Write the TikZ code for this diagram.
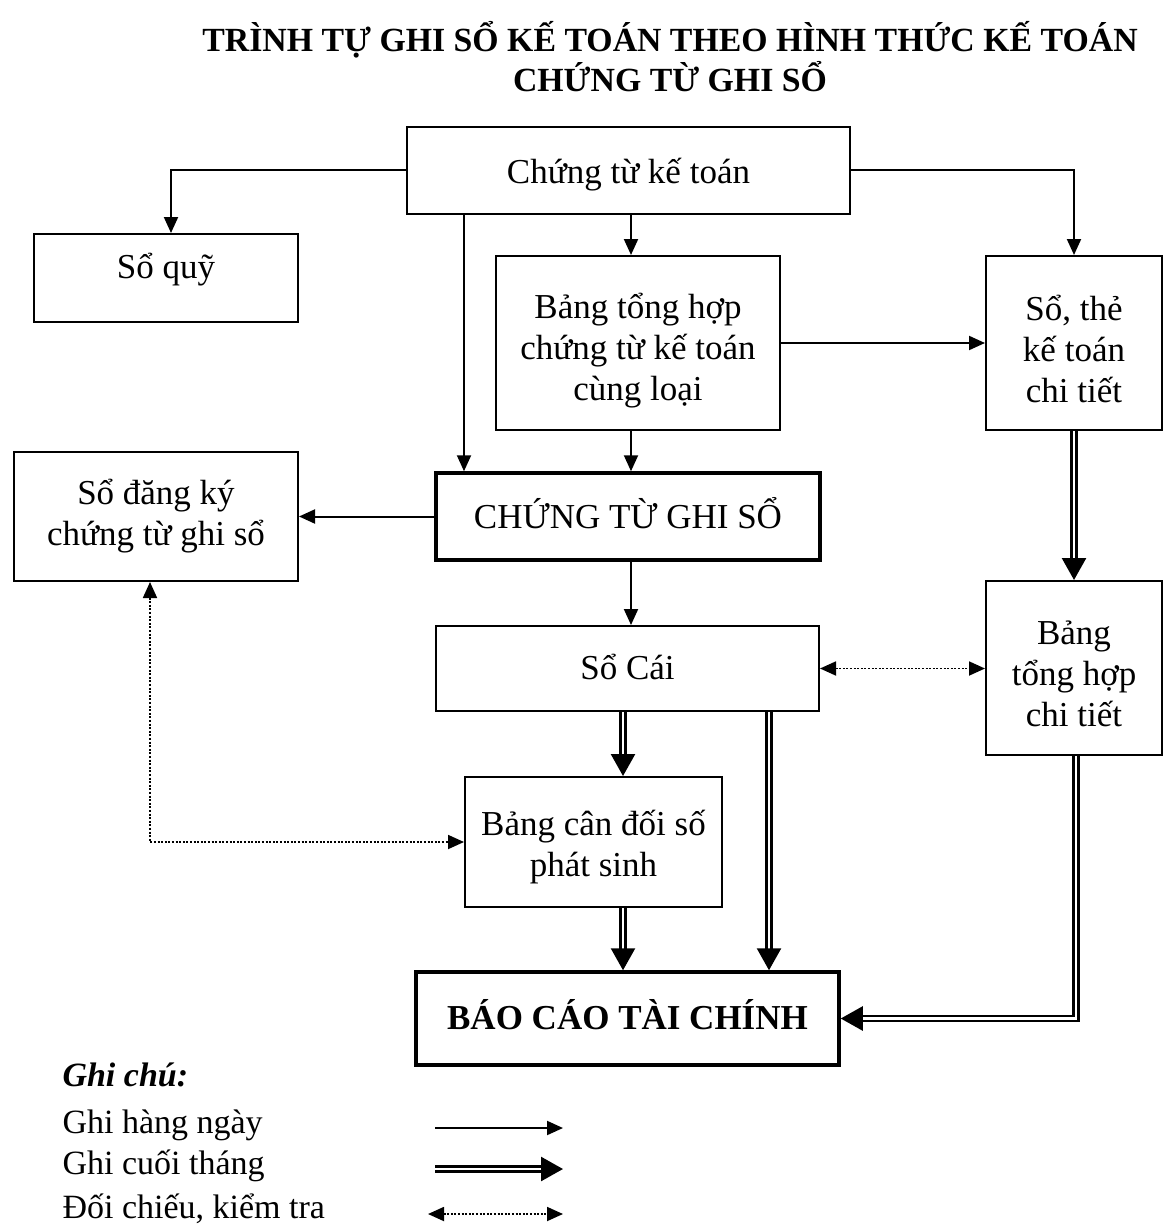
\documentclass[tikz,border=0pt]{standalone}
\usepackage{fontspec}
\setmainfont{Liberation Serif}
\usetikzlibrary{arrows.meta}
\begin{document}
\begin{tikzpicture}[x=1pt,y=-1pt,
  txt/.style={font=\fontsize{35}{41}\selectfont,align=center,inner sep=0pt},
  box/.style={draw,line width=2pt,inner sep=0pt},
  heavybox/.style={box,line width=3.5pt},
  daily/.style={line width=2pt,-{Triangle[length=16pt,width=14pt]}},
  monthly/.style={double,line width=2.5pt,double distance=2.5pt,-{Triangle[length=22pt,width=24pt]}},
  check/.style={line width=1.8pt,dash pattern=on 2pt off 1.6pt,{Triangle[length=16pt,width=14pt]}-{Triangle[length=16pt,width=14pt]}},
  legend/.style={anchor=base west,font=\fontsize{34}{40}\selectfont},
]
\useasboundingbox (0,0) rectangle (1163,1225);

% title
\node[font=\fontsize{33.8}{37}\bfseries] (title1) at (670,40) {TRÌNH TỰ GHI SỔ KẾ TOÁN THEO HÌNH THỨC KẾ TOÁN};
\node[font=\fontsize{33.8}{37}\bfseries] (title2) at (670,77) {CHỨNG TỪ GHI SỔ};

% boxes
\node[box,minimum width=443pt,minimum height=87pt] (ctkt) at (628.5,170.5) {};
\node[box,minimum width=264pt,minimum height=88pt] (soquy) at (166,278) {};
\node[box,minimum width=284pt,minimum height=174pt] (bth) at (638,343) {};
\node[box,minimum width=176pt,minimum height=174pt] (sothe) at (1074,343) {};
\node[box,minimum width=284pt,minimum height=129pt] (sdk) at (156,516.5) {};
\node[heavybox,minimum width=384pt,minimum height=87pt] (ctgs) at (628,516.5) {};
\node[box,minimum width=383pt,minimum height=85pt] (socai) at (627.5,668.5) {};
\node[box,minimum width=176pt,minimum height=174pt] (bthct) at (1074,668) {};
\node[box,minimum width=257pt,minimum height=130pt] (bcd) at (593.5,842) {};
\node[heavybox,minimum width=423pt,minimum height=93pt] (bctc) at (627.5,1018.5) {};

% box texts
\node[txt] (ctkt-t) at ([yshift=-4pt]ctkt.center) {Chứng từ kế toán};
\node[txt] (soquy-t) at ([yshift=8pt]soquy.center) {Sổ quỹ};
\node[txt] (bth-t) at ([yshift=-8pt]bth.center) {Bảng tổng hợp\\chứng từ kế toán\\cùng loại};
\node[txt] (sothe-t) at ([yshift=-6pt]sothe.center) {Sổ, thẻ\\kế toán\\chi tiết};
\node[txt] (sdk-t) at (sdk.center) {Sổ đăng ký\\chứng từ ghi sổ};
\node[txt] (ctgs-t) at ([yshift=3pt]ctgs.center) {CHỨNG TỪ GHI SỔ};
\node[txt] (socai-t) at ([yshift=2pt]socai.center) {Sổ Cái};
\node[txt] (bthct-t) at ([yshift=-6pt]bthct.center) {Bảng\\tổng hợp\\chi tiết};
\node[txt] (bcd-t) at ([yshift=-5pt]bcd.center) {Bảng cân đối số\\phát sinh};
\node[txt,font=\fontsize{35}{41}\bfseries] (bctc-t) at ([yshift=4pt]bctc.center) {BÁO CÁO TÀI CHÍNH};

% connector columns
\coordinate (c150) at (150,0);
\coordinate (c171) at (171,0);
\coordinate (c464) at (464,0);
\coordinate (c623) at (623,0);
\coordinate (c631) at (631,0);
\coordinate (c769) at (769,0);
\coordinate (c1076) at (1076,0);

% daily entries
\draw[daily] (ctkt.west) -| (c171 |- soquy.north);
\draw[daily] (ctkt.east) -| (sothe.north);
\draw[daily] (c464 |- ctkt.south) -- (c464 |- ctgs.north);
\draw[daily] (c631 |- ctkt.south) -- (c631 |- bth.north);
\draw[daily] (bth.east) -- (sothe.west |- bth.east);
\draw[daily] (c631 |- bth.south) -- (c631 |- ctgs.north);
\draw[daily] (ctgs.west) -- (sdk.east |- ctgs.west);
\draw[daily] (c631 |- ctgs.south) -- (c631 |- socai.north);

% month-end entries
\draw[monthly] (sothe.south) -- (bthct.north);
\draw[monthly] (c623 |- socai.south) -- (c623 |- bcd.north);
\draw[monthly] (c769 |- socai.south) -- (c769 |- bctc.north);
\draw[monthly] (c623 |- bcd.south) -- (c623 |- bctc.north);
\draw[monthly] (c1076 |- bthct.south) |- (bctc.east);

% cross-checks
\draw[check] (socai.east) -- (bthct.west |- socai.east);
\draw[check] (c150 |- sdk.south) |- (bcd.west);

% legend
\node[legend,font=\fontsize{34}{40}\bfseries\itshape] (note) at (59,1086) {Ghi chú:};
\node[legend] (lg1) at (59,1133) {Ghi hàng ngày};
\node[legend] (lg2) at (59,1174) {Ghi cuối tháng};
\node[legend] (lg3) at (59,1218) {Đối chiếu, kiểm tra};
\coordinate (l1a) at (435,1128);
\coordinate (l1b) at (563,1128);
\coordinate (l2a) at (435,1169);
\coordinate (l2b) at (563,1169);
\coordinate (l3a) at (428,1214);
\coordinate (l3b) at (563,1214);
\draw[daily] (l1a) -- (l1b);
\draw[monthly] (l2a) -- (l2b);
\draw[check] (l3a) -- (l3b);
\end{tikzpicture}
\end{document}
